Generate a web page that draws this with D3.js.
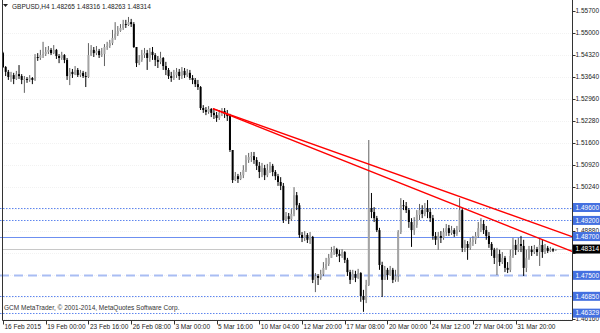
<!DOCTYPE html>
<html>
<head>
<meta charset="utf-8">
<script src="https://cdn.jsdelivr.net/npm/d3@7"></script>
<style>
  html, body { margin: 0; padding: 0; background: #fff; }
  svg { display: block; font-family: 'Liberation Sans', Arial, sans-serif; }
</style>
</head>
<body>
<div id="chart"></div>
<script>
// GBPUSD H4 bars, open = previous close
var symbol = 'GBPUSD,H4';
var firstOpen = 1.5438;
var closes = [
  1.5395,1.5380,1.5364,1.5370,1.5358,1.5373,1.5367,1.5355,1.5358,1.5355,1.5361,1.5355,1.5426,1.5423,1.5432,1.5435,
  1.5442,1.5448,1.5438,1.5448,1.5429,1.5423,1.5432,1.5417,1.5367,1.5380,1.5373,1.5386,1.5370,1.5377,1.5367,1.5364,
  1.5432,1.5448,1.5438,1.5445,1.5432,1.5435,1.5457,1.5460,1.5469,1.5485,1.5497,1.5507,1.5516,1.5528,1.5525,1.5534,
  1.5528,1.5457,1.5407,1.5417,1.5432,1.5438,1.5423,1.5442,1.5432,1.5417,1.5411,1.5423,1.5398,1.5386,1.5367,1.5361,
  1.5370,1.5380,1.5367,1.5383,1.5370,1.5377,1.5361,1.5355,1.5342,1.5333,1.5268,1.5262,1.5256,1.5265,1.5253,1.5246,
  1.5237,1.5253,1.5259,1.5250,1.5243,1.5138,1.5045,1.5057,1.5048,1.5060,1.5076,1.5107,1.5116,1.5119,1.5107,1.5089,
  1.5070,1.5082,1.5060,1.5076,1.5089,1.5070,1.5057,1.5039,1.5027,1.4921,1.4933,1.4924,1.4940,1.4998,1.4967,1.4875,
  1.4866,1.4875,1.4860,1.4869,1.4736,1.4748,1.4742,1.4754,1.4773,1.4785,1.4804,1.4822,1.4831,1.4816,1.4810,1.4822,
  1.4798,1.4760,1.4736,1.4754,1.4742,1.4757,1.4686,1.4674,1.4720,1.4958,1.4946,1.4927,1.4890,1.4782,1.4736,1.4767,
  1.4751,1.4767,1.4736,1.4748,1.4884,1.4967,1.4964,1.4952,1.4915,1.4890,1.4906,1.4937,1.4952,1.4940,1.4958,1.4946,
  1.4927,1.4872,1.4860,1.4872,1.4866,1.4884,1.4896,1.4881,1.4890,1.4878,1.4890,1.4952,1.4835,1.4847,1.4835,1.4853,
  1.4860,1.4872,1.4896,1.4909,1.4890,1.4872,1.4847,1.4829,1.4804,1.4816,1.4791,1.4804,1.4773,1.4767,1.4810,1.4844,
  1.4829,1.4847,1.4841,1.4773,1.4804,1.4829,1.4822,1.4831,1.4822,1.4844,1.4822,1.4835,1.4825,1.4831,1.48265,1.48314
];
var highs = [
  1.5442,1.5398,1.5386,1.5380,1.5377,1.5383,1.5401,1.5373,1.5367,1.5364,1.5370,1.5364,1.5435,1.5438,1.5448,1.5473,
  1.5457,1.5460,1.5454,1.5463,1.5451,1.5435,1.5442,1.5435,1.5423,1.5392,1.5389,1.5398,1.5392,1.5386,1.5383,1.5380,
  1.5469,1.5463,1.5457,1.5460,1.5451,1.5454,1.5466,1.5473,1.5479,1.5510,1.5534,1.5522,1.5528,1.5541,1.5541,1.5550,
  1.5544,1.5534,1.5457,1.5432,1.5448,1.5454,1.5448,1.5454,1.5457,1.5438,1.5429,1.5442,1.5426,1.5411,1.5392,1.5380,
  1.5386,1.5392,1.5389,1.5395,1.5392,1.5389,1.5386,1.5370,1.5361,1.5355,1.5336,1.5277,1.5271,1.5274,1.5268,1.5265,
  1.5256,1.5262,1.5268,1.5268,1.5262,1.5250,1.5138,1.5070,1.5064,1.5070,1.5091,1.5122,1.5129,1.5132,1.5132,1.5116,
  1.5101,1.5098,1.5092,1.5095,1.5101,1.5095,1.5076,1.5064,1.5054,1.5036,1.4946,1.4943,1.4955,1.5023,1.5008,1.4974,
  1.4884,1.4887,1.4881,1.4884,1.4872,1.4757,1.4754,1.4767,1.4791,1.4804,1.4816,1.4838,1.4841,1.4835,1.4829,1.4831,
  1.4825,1.4804,1.4767,1.4767,1.4764,1.4770,1.4760,1.4705,1.4736,1.5169,1.5005,1.4961,1.4934,1.4897,1.4792,1.4779,
  1.4773,1.4779,1.4773,1.4767,1.4890,1.4989,1.4983,1.4977,1.4958,1.4927,1.4930,1.4952,1.4971,1.4967,1.4974,1.4983,
  1.4958,1.4937,1.4884,1.4884,1.4887,1.4896,1.4909,1.4906,1.4903,1.4896,1.4903,1.4989,1.4958,1.4860,1.4856,1.4866,
  1.4872,1.4884,1.4915,1.4927,1.4921,1.4903,1.4884,1.4853,1.4835,1.4835,1.4829,1.4822,1.4810,1.4791,1.4829,1.4866,
  1.4860,1.4866,1.4872,1.4860,1.4829,1.4841,1.4841,1.4844,1.4838,1.4866,1.4860,1.4847,1.4841,1.4838,1.4834,1.48316
];
var lows = [
  1.5392,1.5367,1.5355,1.5349,1.5342,1.5355,1.5358,1.5342,1.5315,1.5346,1.5349,1.5342,1.5352,1.5414,1.5417,1.5423,
  1.5429,1.5435,1.5432,1.5435,1.5420,1.5407,1.5417,1.5407,1.5355,1.5339,1.5361,1.5370,1.5364,1.5364,1.5361,1.5333,
  1.5361,1.5429,1.5426,1.5432,1.5423,1.5426,1.5398,1.5448,1.5454,1.5463,1.5479,1.5491,1.5504,1.5510,1.5516,1.5522,
  1.5519,1.5454,1.5395,1.5401,1.5411,1.5423,1.5386,1.5411,1.5417,1.5398,1.5392,1.5404,1.5386,1.5370,1.5358,1.5349,
  1.5355,1.5361,1.5355,1.5358,1.5361,1.5364,1.5355,1.5342,1.5333,1.5324,1.5262,1.5253,1.5246,1.5250,1.5240,1.5234,
  1.5225,1.5231,1.5243,1.5237,1.5228,1.5132,1.5036,1.5042,1.5036,1.5045,1.5051,1.5070,1.5098,1.5101,1.5095,1.5076,
  1.5051,1.5054,1.5045,1.5054,1.5067,1.5057,1.5045,1.5027,1.5014,1.4912,1.4918,1.4909,1.4918,1.4933,1.4952,1.4866,
  1.4853,1.4856,1.4850,1.4847,1.4726,1.4698,1.4720,1.4736,1.4748,1.4767,1.4779,1.4804,1.4813,1.4807,1.4791,1.4804,
  1.4788,1.4748,1.4723,1.4736,1.4729,1.4739,1.4668,1.4637,1.4664,1.4717,1.4927,1.4915,1.4884,1.4767,1.4683,1.4742,
  1.4736,1.4748,1.4726,1.4730,1.4730,1.4878,1.4952,1.4943,1.4897,1.4838,1.4875,1.4897,1.4921,1.4927,1.4933,1.4927,
  1.4915,1.4860,1.4844,1.4829,1.4850,1.4860,1.4872,1.4872,1.4875,1.4869,1.4872,1.4884,1.4822,1.4822,1.4798,1.4829,
  1.4841,1.4847,1.4866,1.4884,1.4878,1.4860,1.4835,1.4810,1.4785,1.4751,1.4779,1.4785,1.4760,1.4757,1.4760,1.4804,
  1.4813,1.4822,1.4822,1.4748,1.4760,1.4798,1.4810,1.4816,1.4810,1.4779,1.4804,1.4816,1.4819,1.4822,1.4822,1.48263
];

// time axis labels every 16 bars
var timeTickBars = [0,16,32,48,64,80,96,112,128,144,160,176,192];
var timeTickLabels = ['16 Feb 2015','19 Feb 00:00','23 Feb 16:00','26 Feb 08:00','3 Mar 00:00','5 Mar 16:00',
  '10 Mar 04:00','12 Mar 20:00','17 Mar 08:00','20 Mar 00:00','24 Mar 12:00','27 Mar 04:00','31 Mar 20:00'];

// price scale labels
var priceTicks = [1.557,1.550,1.5432,1.5364,1.5296,1.5228,1.5160,1.5092,1.5024,1.4956,1.4888,1.4820,1.4752,1.4684,1.4616];

// horizontal lines drawn on the chart
var dottedLevels = [1.4960, 1.4920, 1.4685, 1.46329];
var solidLevel = 1.4870;
var dashedLevel = 1.4750;

// two trend lines: [bar, price] start and end anchors (extended to the right)
var trendUpper = [[78.6, 1.5266], [207, 1.4888]];
var trendLower = [[78.6, 1.5266], [207, 1.4844]];

var W = 600, H = 333;
var plotLeft = 2, plotRight = 572, plotBottom = 320.5;

var svg = d3.select('#chart').append('svg')
  .attr('width', W).attr('height', H)
  .style('background', '#fff');

var x = d3.scaleLinear().domain([0, closes.length - 1]).range([3, 555.7]);
var y = d3.scaleLinear().domain([1.4616, 1.557]).range([318.6, 10.5]);

var bars = closes.map(function(c, i){
  var o = i === 0 ? firstOpen : closes[i - 1];
  return { i: i, o: o, h: Math.max(highs[i], o, c), l: Math.min(lows[i], o, c), c: c };
});

// faint grid
svg.append('g').selectAll('line')
  .data(priceTicks.slice(1))
  .enter().append('line')
  .attr('x1', plotLeft).attr('x2', plotRight)
  .attr('y1', function(d){ return Math.round(y(d)) + 0.5; })
  .attr('y2', function(d){ return Math.round(y(d)) + 0.5; })
  .attr('stroke', '#f2f2f2')
  .attr('stroke-dasharray', '1,1');

// levels
var lv = svg.append('g');
lv.selectAll('.dot')
  .data(dottedLevels)
  .enter().append('line')
  .attr('x1', 0).attr('x2', plotRight)
  .attr('y1', function(d){ return Math.round(y(d)) + 0.5; })
  .attr('y2', function(d){ return Math.round(y(d)) + 0.5; })
  .attr('stroke', '#5f86ee')
  .attr('stroke-dasharray', '1.5,1.5');
lv.append('line')
  .attr('x1', 0).attr('x2', plotRight)
  .attr('y1', Math.round(y(solidLevel)) + 0.5).attr('y2', Math.round(y(solidLevel)) + 0.5)
  .attr('stroke', '#6d8ff0');
lv.append('line')
  .attr('x1', 0).attr('x2', plotRight)
  .attr('y1', Math.round(y(dashedLevel)) + 0.5).attr('y2', Math.round(y(dashedLevel)) + 0.5)
  .attr('stroke', '#a9bdf3').attr('stroke-width', 2)
  .attr('stroke-dasharray', '9,5');
var bid = closes[closes.length - 1];
lv.append('line')
  .attr('x1', plotLeft).attr('x2', plotRight)
  .attr('y1', Math.round(y(bid)) + 0.5).attr('y2', Math.round(y(bid)) + 0.5)
  .attr('stroke', '#c8c8c8');

// candles
var cg = svg.append('g');
cg.selectAll('.wick')
  .data(bars)
  .enter().append('line')
  .attr('x1', function(d){ return x(d.i); })
  .attr('x2', function(d){ return x(d.i); })
  .attr('y1', function(d){ return y(d.h); })
  .attr('y2', function(d){ return y(d.l); })
  .attr('stroke', function(d){ return d.c >= d.o ? '#606060' : '#000'; })
  .attr('stroke-width', 1);
cg.selectAll('.body')
  .data(bars)
  .enter().append('rect')
  .attr('x', function(d){ return x(d.i) - 1; })
  .attr('width', 2)
  .attr('y', function(d){ return y(Math.max(d.o, d.c)); })
  .attr('height', function(d){ return Math.max(0.8, Math.abs(y(d.o) - y(d.c))); })
  .attr('fill', function(d){ return d.c >= d.o ? '#a4a4a4' : '#000'; });

// trend lines
function trendPath(t){
  var x1 = x(t[0][0]), y1 = y(t[0][1]), x2 = x(t[1][0]), y2 = y(t[1][1]);
  var k = (y2 - y1) / (x2 - x1);
  return [[x1, y1], [plotRight, y1 + k * (plotRight - x1)]];
}
[trendUpper, trendLower].forEach(function(t){
  var p = trendPath(t);
  svg.append('line')
    .attr('x1', p[0][0]).attr('y1', p[0][1])
    .attr('x2', p[1][0]).attr('y2', p[1][1])
    .attr('stroke', '#ff0000').attr('stroke-width', 1.4);
});

// frame
svg.append('path')
  .attr('d', 'M' + (plotLeft + 0.5) + ',0 V' + plotBottom + ' H' + (plotRight + 0.5) + ' V0')
  .attr('fill', 'none').attr('stroke', '#333');

// price tags (levels + bid)
var tags = dottedLevels.concat([solidLevel, dashedLevel]).map(function(v){ return { v: v, fill: '#4470e0' }; });
tags.push({ v: bid, fill: '#000' });

// price axis; scale labels hidden under a tag are skipped
var pa = svg.append('g').attr('transform', 'translate(' + (plotRight + 0.5) + ',0)');
pa.selectAll('.tk')
  .data(priceTicks)
  .enter().append('line')
  .attr('x1', 0).attr('x2', 3)
  .attr('y1', function(d){ return Math.round(y(d)) + 0.5; })
  .attr('y2', function(d){ return Math.round(y(d)) + 0.5; })
  .attr('stroke', '#333');
var shownTicks = priceTicks.filter(function(d){
  return !tags.some(function(t){ return Math.abs(y(t.v) - y(d)) < 5; });
});
pa.selectAll('.lb')
  .data(shownTicks)
  .enter().append('text')
  .attr('x', 3)
  .attr('y', function(d){ return y(d) + 2.3; })
  .style('font-size', '6.5px')
  .style('fill', '#222')
  .text(function(d){ return d.toFixed(5); });

var tg = pa.selectAll('.tag').data(tags).enter().append('g');
tg.append('rect')
  .attr('x', 0.5).attr('width', 28)
  .attr('y', function(d){ return y(d.v) - 4.5; })
  .attr('height', 9)
  .attr('fill', function(d){ return d.fill; });
tg.append('text')
  .attr('x', 3)
  .attr('y', function(d){ return y(d.v) + 2.3; })
  .style('font-size', '6.5px')
  .style('fill', '#fff')
  .text(function(d){ return d.v.toFixed(5); });

// time axis
var ta = svg.append('g');
ta.selectAll('line')
  .data(timeTickBars)
  .enter().append('line')
  .attr('x1', function(d){ return Math.round(x(d)) + 0.5; })
  .attr('x2', function(d){ return Math.round(x(d)) + 0.5; })
  .attr('y1', plotBottom).attr('y2', plotBottom + 4)
  .attr('stroke', '#333');
ta.selectAll('text')
  .data(timeTickBars)
  .enter().append('text')
  .attr('x', function(d){ return x(d) + 1.5; })
  .attr('y', 329)
  .style('font-size', '6.5px')
  .style('fill', '#222')
  .text(function(d, i){ return timeTickLabels[i]; });

// title + copyright
var last = bars[bars.length - 1];
svg.append('path').attr('d', 'M3,4 L8,4 L5.5,7 Z').attr('fill', '#222');
svg.append('text')
  .attr('x', 12).attr('y', 8.5)
  .style('font-size', '6.5px').style('fill', '#222')
  .text(symbol + ' ' + [last.o, last.h, last.l, last.c].map(function(v){ return v.toFixed(5); }).join(' '));
svg.append('text')
  .attr('x', 4).attr('y', 310)
  .style('font-size', '6.5px').style('fill', '#333')
  .text('GCM MetaTrader, \u00a9 2001-2014, MetaQuotes Software Corp.');
</script>
</body>
</html>
